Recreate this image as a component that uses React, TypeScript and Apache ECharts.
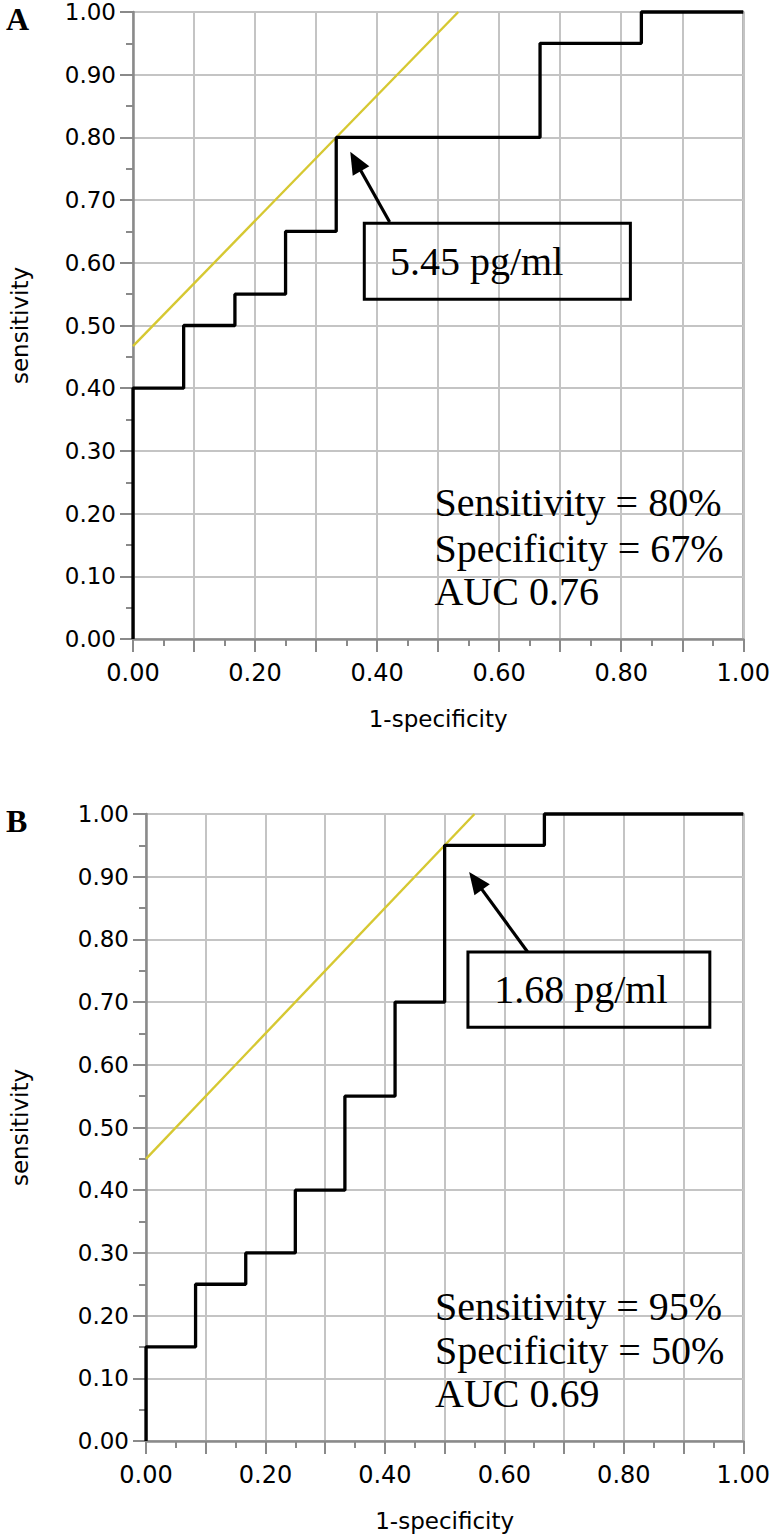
import React, { useEffect, useRef } from 'react';
import * as echarts from 'echarts';

// ---- data ----
const panelLabels = ['A', 'B'];
const fprA = [0, 0, 0.083, 0.167, 0.25, 0.333, 0.667, 0.833, 1.0];
const tprA = [0, 0.40, 0.50, 0.55, 0.65, 0.80, 0.95, 1.0, 1.0];
const fprB = [0, 0, 0.083, 0.167, 0.25, 0.333, 0.417, 0.5, 0.667, 1.0];
const tprB = [0, 0.15, 0.25, 0.30, 0.40, 0.55, 0.70, 0.95, 1.0, 1.0];
const tangentA = [[0, 0.467], [0.533, 1.0]];
const tangentB = [[0, 0.45], [0.55, 1.0]];
const cutoffLabels = ['5.45 pg/ml', '1.68 pg/ml'];
const statsA = ['Sensitivity = 80%', 'Specificity = 67%', 'AUC 0.76'];
const statsB = ['Sensitivity = 95%', 'Specificity = 50%', 'AUC 0.69'];
const xName = '1-specificity';
const yName = 'sensitivity';

// ---- annotation layout (data coordinates) ----
const arrowLayout = [
  { tail: [0.4205, 0.665], tip: [0.356, 0.777] },
  { tail: [0.639, 0.78], tip: [0.541, 0.9075] },
];
const boxLayout = [
  { x0: 0.379, y0: 0.663, x1: 0.815, y1: 0.542, textX: 0.421 },
  { x0: 0.539, y0: 0.78, x1: 0.944, y1: 0.66, textX: 0.583 },
];
const statsLayout = [
  { x: 0.494, ys: [0.217, 0.145, 0.075] },
  { x: 0.484, ys: [0.215, 0.145, 0.075] },
];

export default function App() {
  const ref = useRef<HTMLDivElement>(null);
  useEffect(() => {
    const chart = echarts.init(ref.current!, null, { renderer: 'svg' });
    const grids = [
      { left: 125, top: 12, width: 623, height: 627, show: true, borderColor: '#9a9a9a', borderWidth: 2 },
      { left: 138, top: 814, width: 610, height: 627, show: true, borderColor: '#9a9a9a', borderWidth: 2 },
    ];
    const axisFont = { fontFamily: 'DejaVu Sans', fontSize: 23, color: '#000' };
    const common = {
      type: 'value',
      min: 0,
      max: 1,
      interval: 0.1,
      axisLine: { show: true, onZero: false, lineStyle: { color: '#8a8a8a', width: 2.5 } },
      axisTick: { show: true, length: 13, lineStyle: { color: '#8a8a8a', width: 2 } },
      minorTick: { show: true, splitNumber: 2, length: 7, lineStyle: { color: '#8a8a8a', width: 2 } },
      splitLine: { show: true, lineStyle: { color: '#c4c4c4', width: 2 } },
    };
    const mkX = (i: number) => ({
      ...common,
      gridIndex: i,
      axisLabel: {
        ...axisFont,
        fontSize: 24,
        margin: 22,
        formatter: (v: number) => (Math.round(v * 10) % 2 === 0 ? v.toFixed(2) : ''),
      },
      name: xName,
      nameLocation: 'middle',
      nameGap: 68,
      nameTextStyle: { ...axisFont },
    });
    const mkY = (i: number, gap: number) => ({
      ...common,
      gridIndex: i,
      axisLabel: { ...axisFont, margin: 17, formatter: (v: number) => v.toFixed(2) },
      name: yName,
      nameLocation: 'middle',
      nameGap: gap,
      nameTextStyle: { ...axisFont },
    });
    const curves = [
      { fpr: fprA, tpr: tprA, tan: tangentA },
      { fpr: fprB, tpr: tprB, tan: tangentB },
    ];
    const series: any[] = [];
    curves.forEach((c, i) => {
      series.push({
        type: 'line',
        xAxisIndex: i,
        yAxisIndex: i,
        data: c.tan,
        symbol: 'none',
        lineStyle: { color: '#d6c832', width: 2.4 },
        z: 4,
      });
      series.push({
        type: 'line',
        xAxisIndex: i,
        yAxisIndex: i,
        data: c.fpr.map((x, k) => [x, c.tpr[k]]),
        step: 'end',
        symbol: 'none',
        clip: false,
        lineStyle: { color: '#000', width: 3.3 },
        z: 5,
      });
    });
    chart.setOption({
      animation: false,
      backgroundColor: '#fff',
      grid: grids,
      xAxis: [mkX(0), mkX(1)],
      yAxis: [mkY(0, 102), mkY(1, 115)],
      series,
    });

    const px = (g: number, pt: number[]) => chart.convertToPixel({ gridIndex: g } as any, pt) as number[];
    const graphics: any[] = [];
    const serif = '"Liberation Serif", "Times New Roman", serif';
    const stats = [statsA, statsB];
    [0, 1].forEach((g) => {
      const topLeft = px(g, [0, 1]);
      graphics.push({
        type: 'text',
        x: 6,
        y: topLeft[1] + 7,
        style: { text: panelLabels[g], font: `bold 32px ${serif}`, fill: '#000', textAlign: 'left', textVerticalAlign: 'middle' },
      });
      const b = boxLayout[g];
      const p0 = px(g, [b.x0, b.y0]);
      const p1 = px(g, [b.x1, b.y1]);
      graphics.push({
        type: 'rect',
        shape: { x: p0[0], y: p0[1], width: p1[0] - p0[0], height: p1[1] - p0[1] },
        style: { fill: 'none', stroke: '#000', lineWidth: 3 },
        z: 10,
      });
      const tp = px(g, [b.textX, (b.y0 + b.y1) / 2]);
      graphics.push({
        type: 'text',
        x: tp[0],
        y: tp[1],
        style: { text: cutoffLabels[g], font: `40px ${serif}`, fill: '#000', textAlign: 'left', textVerticalAlign: 'middle' },
        z: 10,
      });
      const a = arrowLayout[g];
      const tail = px(g, a.tail);
      const tip = px(g, a.tip);
      const dx = tip[0] - tail[0];
      const dy = tip[1] - tail[1];
      const L = Math.hypot(dx, dy);
      const ux = dx / L;
      const uy = dy / L;
      const hl = 22;
      const hw = 9.5;
      const bx = tip[0] - ux * hl;
      const by = tip[1] - uy * hl;
      graphics.push({
        type: 'line',
        shape: { x1: tail[0], y1: tail[1], x2: bx + ux * 2, y2: by + uy * 2 },
        style: { stroke: '#000', lineWidth: 3.2 },
        z: 10,
      });
      graphics.push({
        type: 'polygon',
        shape: { points: [tip, [bx - uy * hw, by + ux * hw], [bx + uy * hw, by - ux * hw]] },
        style: { fill: '#000' },
        z: 10,
      });
      const s = statsLayout[g];
      stats[g].forEach((t, k) => {
        const sp = px(g, [s.x, s.ys[k]]);
        graphics.push({
          type: 'text',
          x: sp[0],
          y: sp[1],
          style: { text: t, font: `40px ${serif}`, fill: '#000', textAlign: 'left', textVerticalAlign: 'middle' },
          z: 10,
        });
      });
    });
    chart.setOption({ graphic: graphics });
    return () => chart.dispose();
  }, []);
  return <div ref={ref} style={{ position: 'absolute', left: 0, top: 0, width: 773, height: 1538 }} />;
}
